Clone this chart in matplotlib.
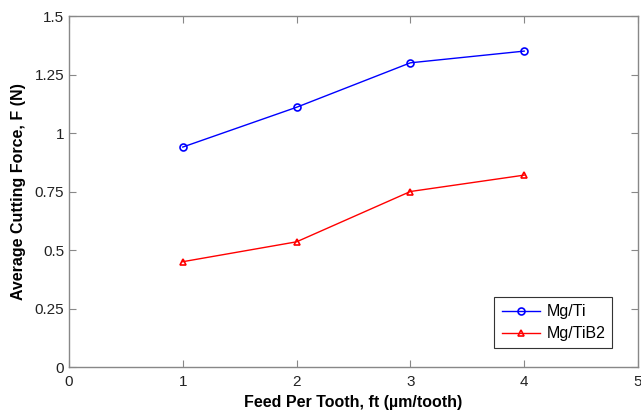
import matplotlib
matplotlib.use('Agg')
from matplotlib import pyplot as plt

# Data
feed = [1, 2, 3, 4]
mg_ti = [0.94, 1.11, 1.30, 1.35]
mg_tib2 = [0.45, 0.535, 0.75, 0.82]
xticks = [0, 1, 2, 3, 4, 5]
yticks = [0, 0.25, 0.5, 0.75, 1, 1.25, 1.5]
ytick_labels = ['0', '0.25', '0.5', '0.75', '1', '1.25', '1.5']

plt.rcParams['font.family'] = ['Liberation Sans', 'DejaVu Sans']

fig = plt.figure(figsize=(6.41, 4.18), dpi=100)
ax = fig.add_axes([0.1076, 0.122, 0.8877, 0.8397])

ax.plot(feed, mg_ti, color='#0000ff', marker='o', markersize=5, markerfacecolor='none',
        markeredgewidth=1.2, linewidth=1.0, label='Mg/Ti')
ax.plot(feed, mg_tib2, color='#ff0000', marker='^', markersize=5, markerfacecolor='none',
        markeredgewidth=1.2, linewidth=1.0, label='Mg/TiB2')

ax.set_xlim(0, 5)
ax.set_ylim(0, 1.5)
ax.set_xticks(xticks)
ax.set_yticks(yticks)
ax.set_yticklabels(ytick_labels)

# matlab-like box with inward ticks
for s in ax.spines.values():
    s.set_color('#888888')
    s.set_linewidth(1.0)
ax.tick_params(direction='in', length=5, width=0.8, color='#888888', labelsize=11,
               labelcolor='#222222', top=True, right=True)
ax.tick_params(axis='x', pad=6)

ax.set_xlabel('Feed Per Tooth, ft (\u00b5m/tooth)', fontsize=11.5, fontweight='bold', labelpad=4)
ax.set_ylabel('Average Cutting Force, F (N)', fontsize=11.5, fontweight='bold', labelpad=6)

leg = ax.legend(loc='lower right', bbox_to_anchor=(0.969, 0.030), fontsize=11.5,
                fancybox=False, framealpha=1, edgecolor='#333333', handlelength=2.4,
                borderpad=0.45, labelspacing=0.45, handletextpad=0.4)
leg.get_frame().set_linewidth(0.8)

plt.savefig('out.png', dpi=100)
plt.close()
